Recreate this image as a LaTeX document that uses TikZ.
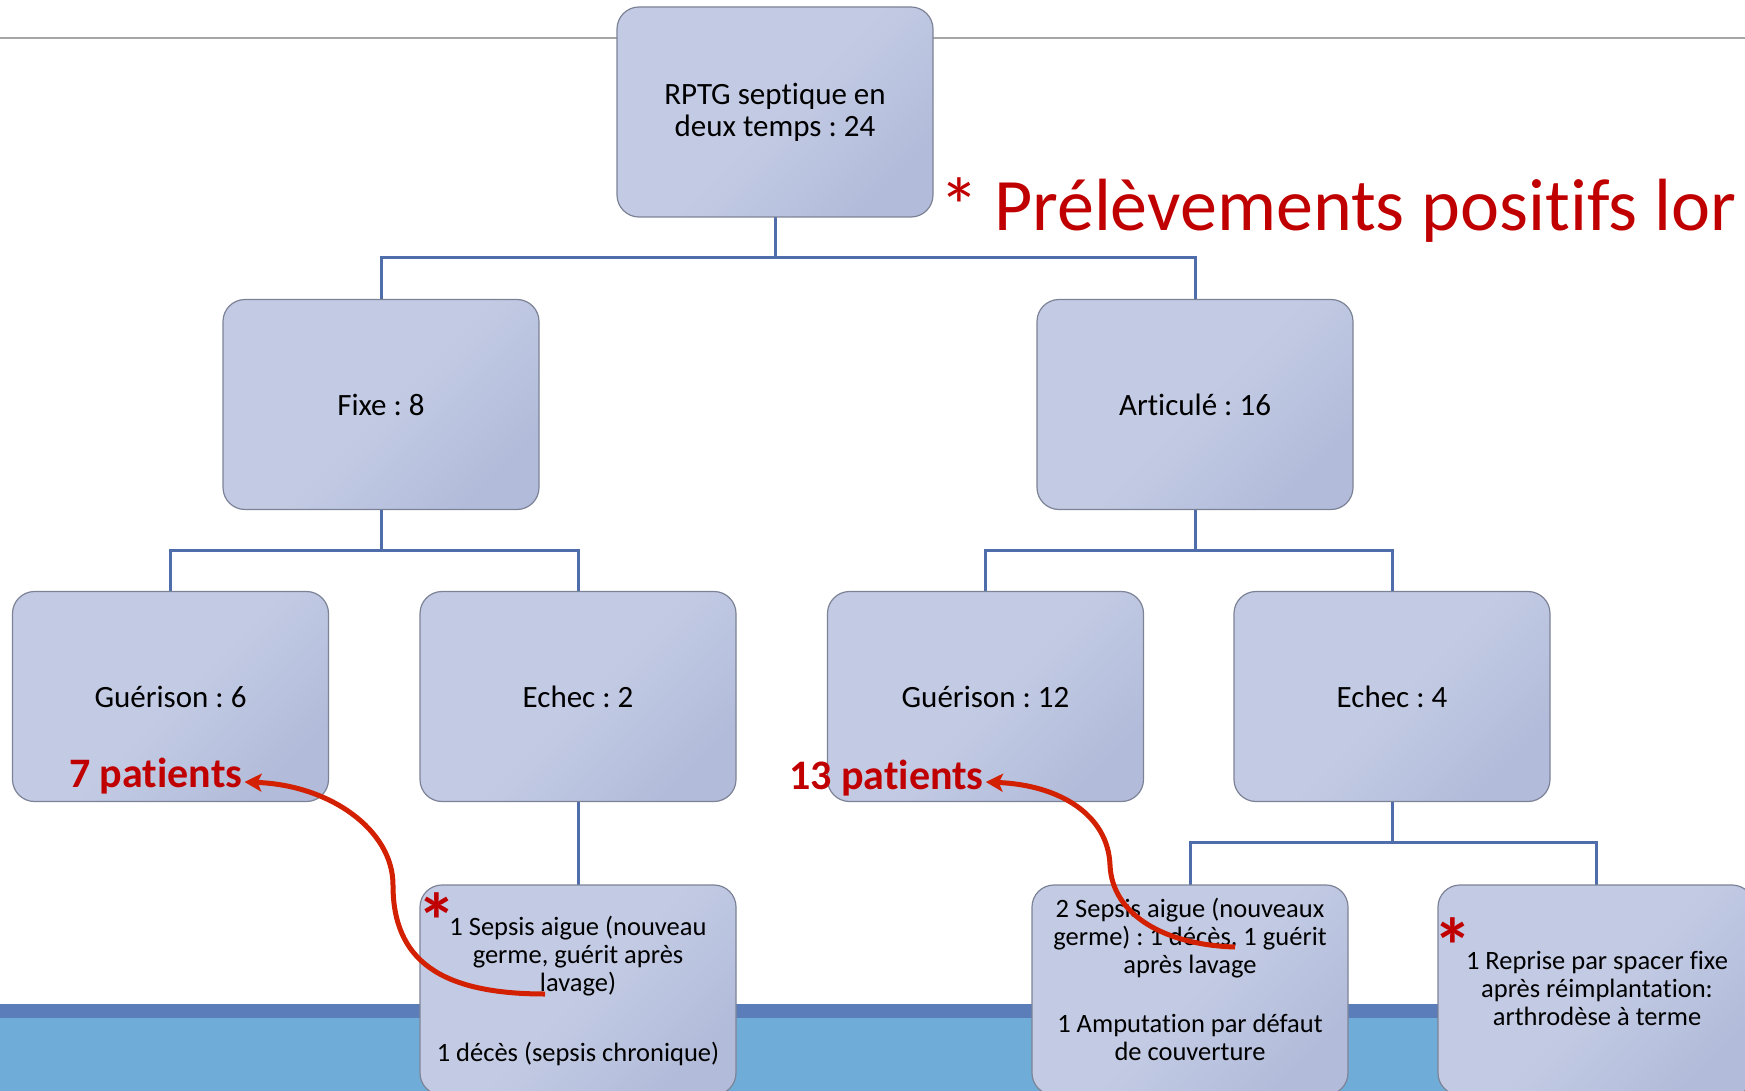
\documentclass[tikz,border=0pt]{standalone}
\usepackage{fontspec}
\setmainfont{Carlito}[Ligatures=NoCommon]
\usetikzlibrary{arrows.meta}
\definecolor{boxA}{HTML}{C3CBE4}
\definecolor{boxB}{HTML}{B2BCDA}
\definecolor{boxline}{HTML}{7D8396}
\definecolor{connc}{HTML}{4E6DAA}
\definecolor{redt}{HTML}{C00000}
\definecolor{redarrow}{HTML}{D22000}
\definecolor{banddark}{HTML}{5B7DBA}
\definecolor{bandlight}{HTML}{6FADD8}
\definecolor{grayline}{HTML}{A6A6A6}
\frenchspacing
\begin{document}
\begin{tikzpicture}[x=1pt,y=-1pt,
  box/.style={draw=boxline, line width=1.2pt, rounded corners=22pt,
    minimum width=316pt, minimum height=210pt, inner sep=0pt,
    top color=boxA, bottom color=boxB, middle color=boxA, shading angle=45,
    align=center, font=\fontsize{31}{32}\selectfont},
  small/.style={font=\fontsize{26.5}{28}\selectfont, align=center, inner sep=0pt},
  conn/.style={draw=connc, line width=3pt},
  redlbl/.style={font=\bfseries\fontsize{42}{42}\selectfont, text=redt, inner sep=0pt, anchor=base west},
  star/.style={font=\bfseries\fontsize{78}{78}\selectfont, text=redt, inner sep=0pt, anchor=base},
  redarr/.style={draw=redarrow, line width=5pt, -{Stealth[length=17pt,width=18pt,inset=4pt]}}
]
\useasboundingbox (0,0) rectangle (1745,1091);
\clip (0,0) rectangle (1745,1091);
\fill[white] (0,0) rectangle (1745,1091);
% background
\fill[bandlight] (0,1017) rectangle (1745,1091);
\fill[banddark] (0,1004) rectangle (1745,1018);
\draw[grayline, line width=1.5pt] (0,38) -- (1745,38);

% connectors (drawn first, boxes on top)
\coordinate (ctop) at (775,217);
\coordinate (cfixe) at (381,509);
\coordinate (cart) at (1195,509);
\coordinate (ce2) at (578,801);
\coordinate (ce4) at (1392,801);
\draw[conn] (ctop) -- ++(0,41) -| (381,300);
\draw[conn] (ctop) -- ++(0,41) -| (1195,300);
\draw[conn] (cfixe) -- ++(0,41) -| (170.5,592);
\draw[conn] (cfixe) -- ++(0,41) -| (578,592);
\draw[conn] (cart) -- ++(0,41) -| (985.5,592);
\draw[conn] (cart) -- ++(0,41) -| (1392,592);
\draw[conn] (ce2) -- (578,885);
\draw[conn] (ce4) -- ++(0,41) -| (1190,885);
\draw[conn] (ce4) -- ++(0,41) -| (1596,885);

% boxes
\node[box] (top) at (775,112) {RPTG septique en\\deux temps : 24};
\node[box] (fixe) at (381,404.5) {Fixe : 8};
\node[box] (art) at (1195,404.5) {Articulé : 16};
\node[box] (g6) at (170.5,696.5) {Guérison : 6};
\node[box] (e2) at (578,696.5) {Echec : 2};
\node[box] (g12) at (985.5,696.5) {Guérison : 12};
\node[box] (e4) at (1392,696.5) {Echec : 4};
\node[box] (c1) at (578,990) {};
\node[box] (c2) at (1190,990) {};
\node[box] (c3) at (1596,990) {};

% texts in bottom boxes
\node[small] (c1t) at (578,990.5) {1 Sepsis aigue (nouveau\\germe, guérit après\\lavage)\\[42pt]1 décès (sepsis chronique)};
\node[small] (c2t) at (1190,979.5) {2 Sepsis aigue (nouveaux\\germe) : 1 décès, 1 guérit\\après lavage\\[31pt]1 Amputation par défaut\\de couverture};
\node[small] (c3t) at (1597,988.5) {1 Reprise par spacer fixe\\après réimplantation:\\arthrodèse à terme};

% stars
\node[star] (s1) at (436.5,948) {*};
\node[star] (s2) at (1453,973) {*};

% header
\node[anchor=base west, inner sep=0pt, text=redt, font=\fontsize{74}{74}\selectfont] (hdr) at (939,231) {\fontsize{80}{80}\selectfont\raisebox{-4pt}{*}\fontsize{74}{74}\selectfont\hspace{15pt}Prélèvements positifs lor};

% red labels
\node[redlbl] (p7) at (69,787) {7 patients};
\node[redlbl] (p13) at (789,789) {13 patients};

% arrows
\coordinate (a1) at (545,994);
\coordinate (a2) at (1235,947);
\draw[redarr] (a1) .. controls (440,994) and (393,960) .. (393,885)
  .. controls (393,830) and (330,785) .. ([xshift=2pt,yshift=5pt]p7.base east);
\draw[redarr] (a2) .. controls (1165,945) and (1112,915) .. (1110,865)
  .. controls (1108,815) and (1060,785) .. ([xshift=2pt,yshift=7pt]p13.base east);
\end{tikzpicture}
\end{document}
